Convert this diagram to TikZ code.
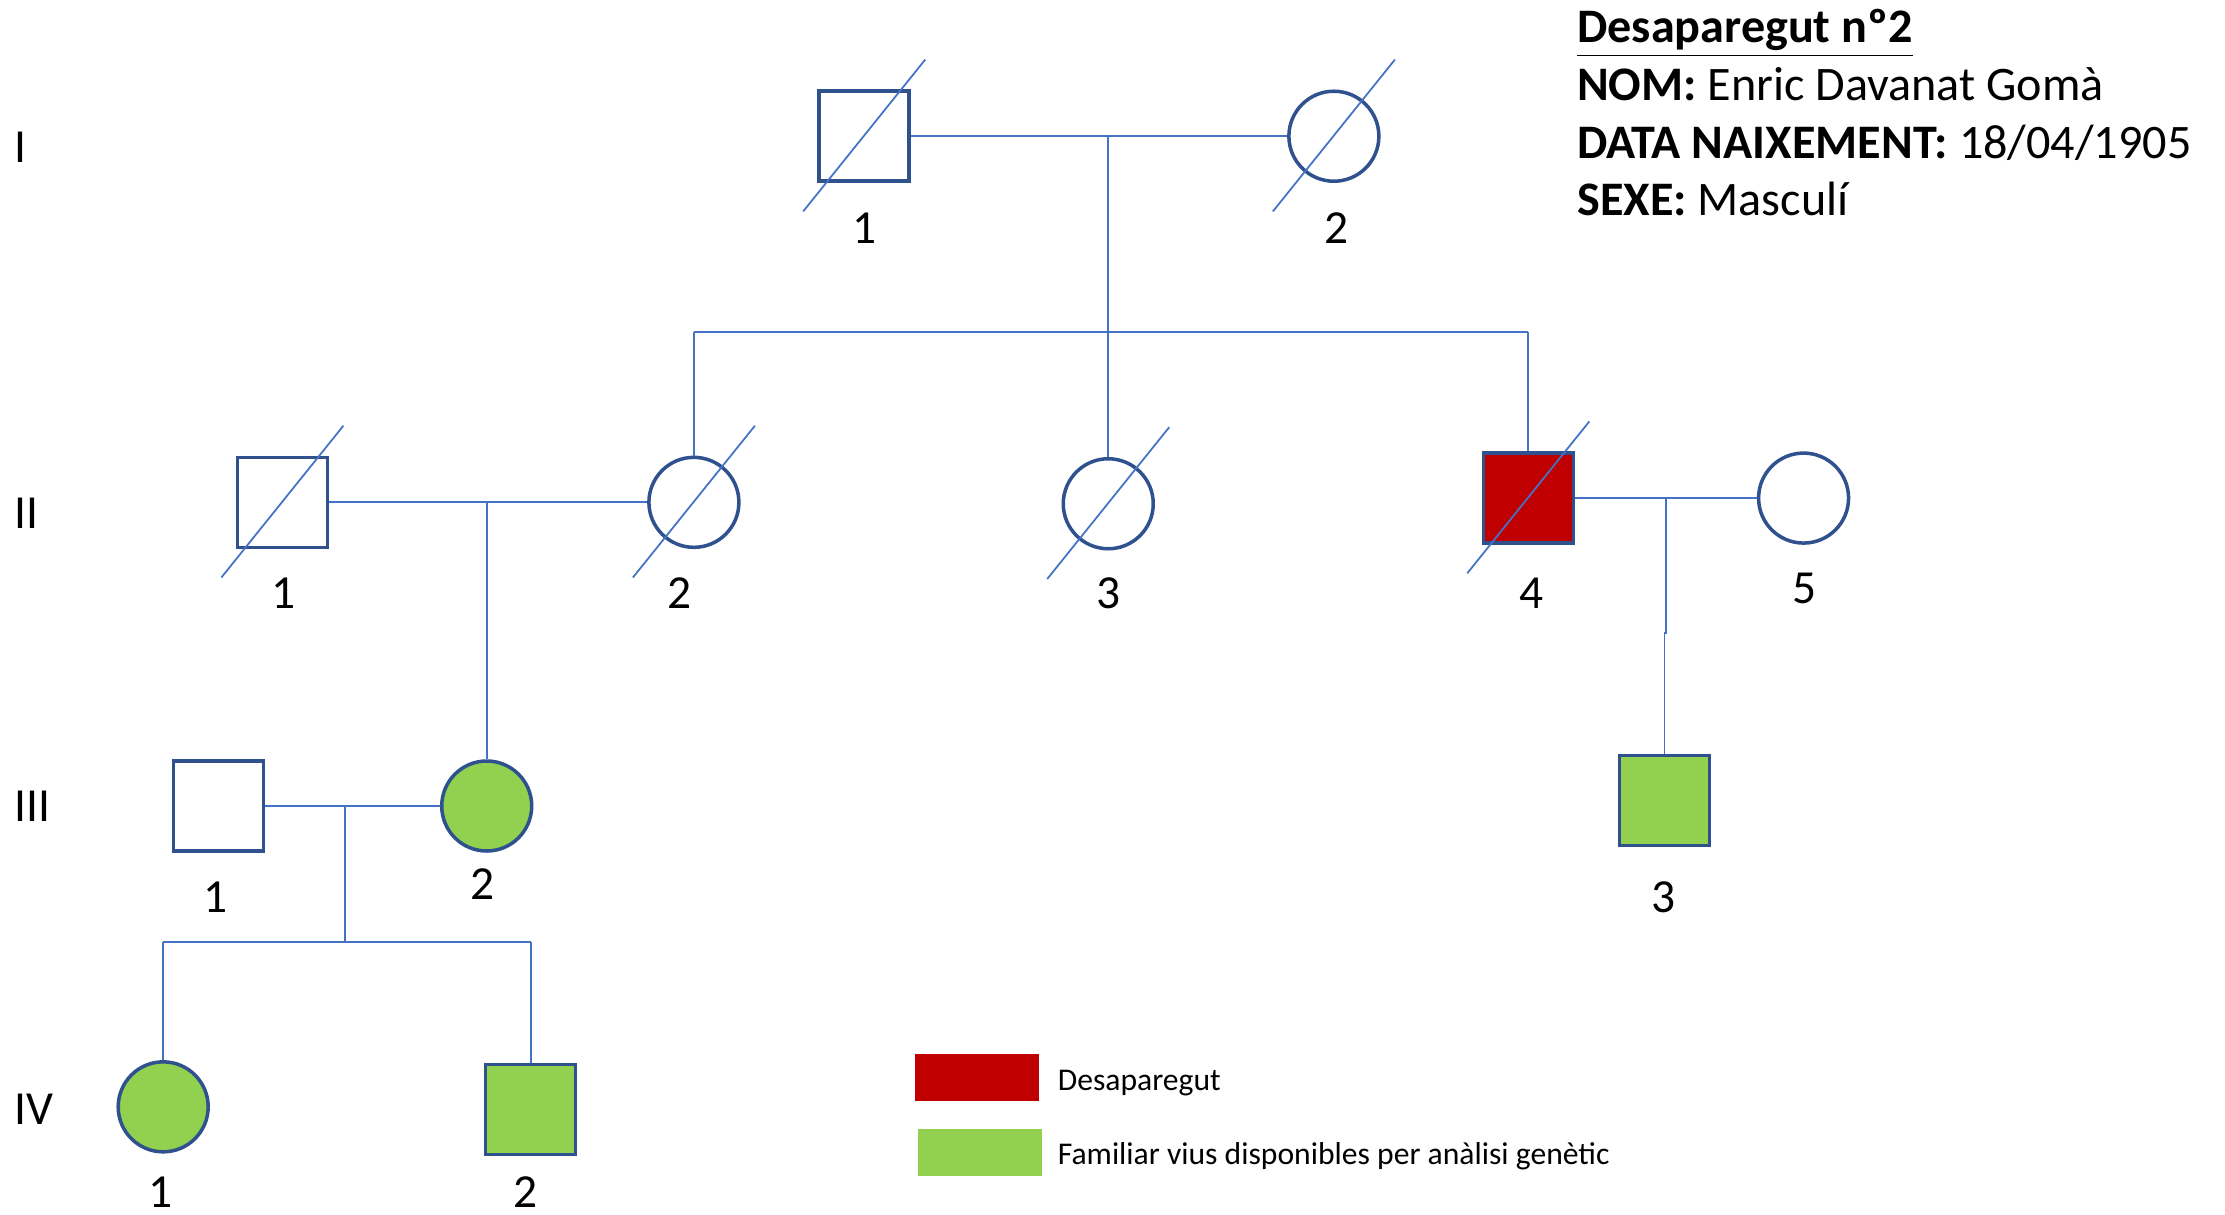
\documentclass[tikz,border=0pt]{standalone}
\usepackage{fontspec}
\setmainfont{Carlito}
\definecolor{linkblue}{HTML}{4472C4}
\definecolor{edgeblue}{HTML}{2F528F}
\definecolor{lostred}{HTML}{C00000}
\definecolor{livegreen}{HTML}{92D050}
\begin{document}
\begin{tikzpicture}[x=0.01419cm,y=-0.01419cm,
  person/.style={draw=edgeblue,line width=1pt,fill=white,minimum size=0.9cm,inner sep=0pt},
  male/.style={person,rectangle},
  female/.style={person,circle},
  missing/.style={fill=lostred},
  living/.style={fill=livegreen},
  link/.style={draw=linkblue,line width=0.5pt},
  slash/.style={draw=linkblue,line width=0.5pt},
  num/.style={font=\fontsize{13.5}{16}\selectfont,inner sep=0pt},
  gen/.style={font=\fontsize{13.5}{16}\selectfont,inner sep=0pt,anchor=west},
  head/.style={font=\fontsize{13.7}{16.5}\selectfont,inner sep=0pt,anchor=base west},
  swatch/.style={minimum width=1.235cm,minimum height=0.47cm,inner sep=0pt},
  keytext/.style={font=\fontsize{9}{11}\selectfont,inner sep=0pt,anchor=west}]
\useasboundingbox (0,0) rectangle (1568,856);

% generation labels
\node[gen] (gI)   at (10,104) {I};
\node[gen] (gII)  at (10,362) {II};
\node[gen] (gIII) at (10,568) {III};
\node[gen] (gIV)  at (10,782) {IV};

% individuals
\node[male]   (I1)   at (609,96)  {};
\node[female] (I2)   at (940,96)  {};
\node[male]   (II1)  at (199,354) {};
\node[female] (II2)  at (489,354) {};
\node[female] (II3)  at (781,355) {};
\node[male,missing] (II4) at (1077,351) {};
\node[female] (II5)  at (1271,351) {};
\node[male]   (III1) at (154,568) {};
\node[female,living] (III2) at (343,568) {};
\node[male,living]   (III3) at (1173,564) {};
\node[female,living] (IV1)  at (115,780) {};
\node[male,living]   (IV2)  at (374,782) {};

% deceased marks
\foreach \n in {I1,I2,II1,II2,II3,II4}
  \draw[slash] (\n.center) ++(-43,53) -- ++(86,-107);

% individual numbers
\node[num] (nI1)   at (609,161)  {1};
\node[num] (nI2)   at (942,161)  {2};
\node[num] (nII1)  at (200,418)  {1};
\node[num] (nII2)  at (479,418)  {2};
\node[num] (nII3)  at (781,418)  {3};
\node[num] (nII4)  at (1079,418) {4};
\node[num] (nII5)  at (1272,415) {5};
\node[num] (nIII1) at (152,632)  {1};
\node[num] (nIII2) at (340,623)  {2};
\node[num] (nIII3) at (1172,632) {3};
\node[num] (nIV1)  at (113,840)  {1};
\node[num] (nIV2)  at (370,840)  {2};

% couples and descent
\coordinate (m1) at (781,96);
\coordinate (m2) at (343,354);
\coordinate (m3) at (1174,351);
\coordinate (m4) at (243,568);

\draw[link] (I1) -- (I2);
\draw[link] (m1) -- (m1 |- 0,234);
\draw[link] (II2 |- 0,234) -- (II4 |- 0,234);
\draw[link] (II2 |- 0,234) -- (II2.north);
\draw[link] (II3 |- 0,234) -- (II3.north);
\draw[link] (II4 |- 0,234) -- (II4.north);

\draw[link] (II1) -- (II2);
\draw[link] (m2) -- (III2.north);

\draw[link] (II4) -- (II5);
\draw[link] (m3) -- (m3 |- 0,446) -- (III3.north |- 0,446) -- (III3.north);

\draw[link] (III1) -- (III2);
\draw[link] (m4) -- (m4 |- 0,664);
\draw[link] (IV1 |- 0,664) -- (IV2 |- 0,664);
\draw[link] (IV1 |- 0,664) -- (IV1.north);
\draw[link] (IV2 |- 0,664) -- (IV2.north);

% case header
\node[head] (h1) at (1111,30)  {\underline{\textbf{Desaparegut nº2}}};
\node[head] (h2) at (1111,71)  {\textbf{NOM:} Enric Davanat Gomà};
\node[head] (h3) at (1111,112) {\textbf{DATA NAIXEMENT:} 18/04/1905};
\node[head] (h4) at (1111,152) {\textbf{SEXE:} Masculí};

% key
\node[swatch,fill=lostred]   (kLost) at (688.5,759.5) {};
\node[swatch,fill=livegreen] (kLive) at (690.5,812.5) {};
\node[keytext] (tLost) at (745,763) {Desaparegut};
\node[keytext] (tLive) at (745,815) {Familiar vius disponibles per anàlisi genètic};
\end{tikzpicture}
\end{document}
